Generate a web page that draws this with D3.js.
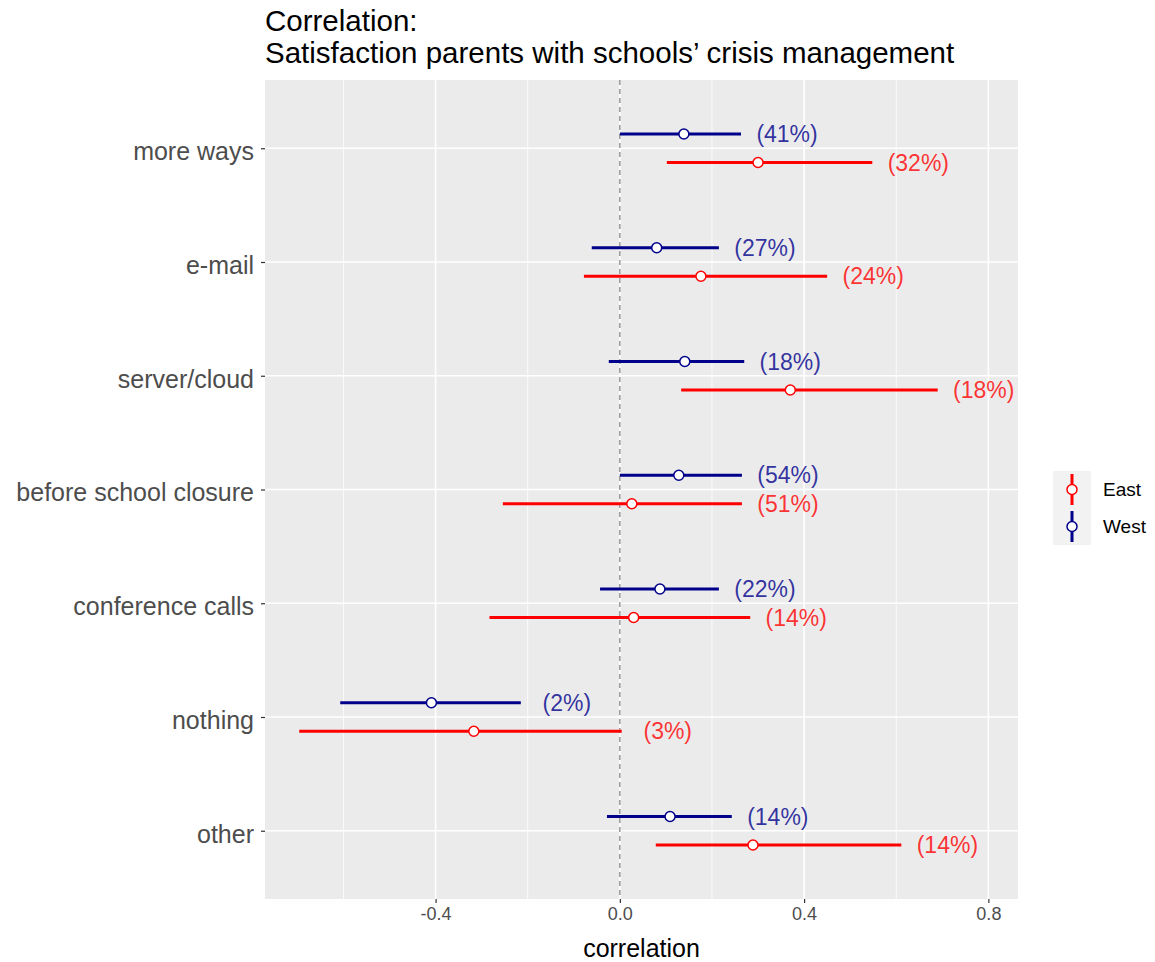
<!DOCTYPE html>
<html lang="en">
<head>
    <meta charset="UTF-8">
    <title>Correlation</title>
    <script src="https://cdn.jsdelivr.net/npm/d3@7"></script>
    <style>
        body { margin: 0; background: #fff; }
        text { font-family: "Liberation Sans", Arial, sans-serif; }
    </style>
</head>
<body>
    <svg width="1155" height="962" id="chart"></svg>
    <script>
        // categories, top to bottom
        const categories = ["more ways", "e-mail", "server/cloud", "before school closure",
                            "conference calls", "nothing", "other"];

        const westEst = [0.139, 0.080, 0.141, 0.128, 0.087, -0.409, 0.109];
        const westLo  = [0.000, -0.061, -0.024, 0.000, -0.043, -0.607, -0.028];
        const westHi  = [0.263, 0.215, 0.270, 0.265, 0.215, -0.215, 0.243];
        const westPct = ["(41%)", "(27%)", "(18%)", "(54%)", "(22%)", "(2%)", "(14%)"];

        const eastEst = [0.300, 0.176, 0.370, 0.026, 0.030, -0.317, 0.289];
        const eastLo  = [0.102, -0.078, 0.133, -0.254, -0.283, -0.696, 0.078];
        const eastHi  = [0.548, 0.450, 0.690, 0.265, 0.283, 0.004, 0.611];
        const eastPct = ["(32%)", "(24%)", "(18%)", "(51%)", "(14%)", "(3%)", "(14%)"];

        const xTicks = [-0.4, 0.0, 0.4, 0.8];
        const xTickLabels = ["-0.4", "0.0", "0.4", "0.8"];
        const xMinor = [-0.6, -0.2, 0.2, 0.6];
        const labelOffset = 0.1;

        const groups = [
            { name: "West", color: "#00008B", est: westEst, lo: westLo, hi: westHi, pct: westPct, dodge: -1 },
            { name: "East", color: "#FF0000", est: eastEst, lo: eastLo, hi: eastHi, pct: eastPct, dodge: 1 }
        ];

        const rows = [];
        groups.forEach(g => {
            categories.forEach((c, i) => {
                rows.push({ cat: c, group: g.name, color: g.color, dodge: g.dodge,
                            est: g.est[i], lo: g.lo[i], hi: g.hi[i], pct: g.pct[i] });
            });
        });

        const panel = { left: 265, right: 1018, top: 80, bottom: 899 };
        const svg = d3.select('#chart');

        // x domain like ggplot: data extent + 5%
        const xmin = d3.min(rows, d => d.lo);
        const xmax = d3.max(rows, d => d.hi + labelOffset);
        const pad = (xmax - xmin) * 0.05;
        const x = d3.scaleLinear().domain([xmin - pad, xmax + pad]).range([panel.left, panel.right]);

        const y = d3.scalePoint().domain(categories)
            .range([panel.top, panel.bottom]).padding(0.6);
        const dodgePx = y.step() * 0.125;

        // panel
        svg.append('rect')
            .attr('x', panel.left).attr('y', panel.top)
            .attr('width', panel.right - panel.left).attr('height', panel.bottom - panel.top)
            .attr('fill', '#EBEBEB');

        svg.selectAll('line.minor')
            .data(xMinor)
            .enter()
            .append('line')
            .attr('class', 'minor')
            .attr('x1', d => x(d)).attr('x2', d => x(d))
            .attr('y1', panel.top).attr('y2', panel.bottom)
            .attr('stroke', '#fff').attr('stroke-width', 0.8);

        svg.selectAll('line.major')
            .data(xTicks)
            .enter()
            .append('line')
            .attr('class', 'major')
            .attr('x1', d => x(d)).attr('x2', d => x(d))
            .attr('y1', panel.top).attr('y2', panel.bottom)
            .attr('stroke', '#fff').attr('stroke-width', 1.6);

        svg.selectAll('line.hgrid')
            .data(categories)
            .enter()
            .append('line')
            .attr('class', 'hgrid')
            .attr('x1', panel.left).attr('x2', panel.right)
            .attr('y1', d => y(d)).attr('y2', d => y(d))
            .attr('stroke', '#fff').attr('stroke-width', 1.6);

        // zero reference
        svg.append('line')
            .attr('x1', x(0)).attr('x2', x(0))
            .attr('y1', panel.top).attr('y2', panel.bottom)
            .attr('stroke', '#7f7f7f').attr('stroke-width', 1.2)
            .attr('stroke-dasharray', '5,4');

        // axes
        const xAxis = svg.append('g')
            .attr('transform', `translate(0,${panel.bottom})`)
            .call(d3.axisBottom(x).tickValues(xTicks)
                .tickFormat((d, i) => xTickLabels[i])
                .tickSizeOuter(0).tickSize(4).tickPadding(4));
        xAxis.select('.domain').remove();
        xAxis.selectAll('line').attr('stroke', '#333').attr('stroke-width', 1.2);
        xAxis.selectAll('text').attr('fill', '#4D4D4D').style('font-size', '18px');

        const yAxis = svg.append('g')
            .attr('transform', `translate(${panel.left},0)`)
            .call(d3.axisLeft(y).tickSizeOuter(0).tickSize(4).tickPadding(7));
        yAxis.select('.domain').remove();
        yAxis.selectAll('line').attr('stroke', '#333').attr('stroke-width', 1.2);
        yAxis.selectAll('text').attr('fill', '#4D4D4D').style('font-size', '25px')
            .attr('dy', '0.45em');

        // intervals
        svg.selectAll('line.ci')
            .data(rows)
            .enter()
            .append('line')
            .attr('class', 'ci')
            .attr('x1', d => x(d.lo)).attr('x2', d => x(d.hi))
            .attr('y1', d => y(d.cat) + d.dodge * dodgePx)
            .attr('y2', d => y(d.cat) + d.dodge * dodgePx)
            .attr('stroke', d => d.color).attr('stroke-width', 3);

        svg.selectAll('circle.est')
            .data(rows)
            .enter()
            .append('circle')
            .attr('class', 'est')
            .attr('cx', d => x(d.est))
            .attr('cy', d => y(d.cat) + d.dodge * dodgePx)
            .attr('r', 5)
            .attr('fill', '#fff')
            .attr('stroke', d => d.color).attr('stroke-width', 1.5);

        svg.selectAll('text.pct')
            .data(rows)
            .enter()
            .append('text')
            .attr('class', 'pct')
            .attr('x', d => x(d.hi + labelOffset))
            .attr('y', d => y(d.cat) + d.dodge * dodgePx)
            .attr('dy', '0.35em')
            .attr('text-anchor', 'middle')
            .attr('fill', d => d.color)
            .attr('fill-opacity', 0.8)
            .style('font-size', '23px')
            .text(d => d.pct);

        // titles
        svg.append('text').attr('x', panel.left).attr('y', 31)
            .style('font-size', '29.5px').attr('fill', '#000').text('Correlation:');
        svg.append('text').attr('x', panel.left).attr('y', 63)
            .style('font-size', '29.5px').attr('fill', '#000')
            .text('Satisfaction parents with schools\u2019 crisis management');
        svg.append('text')
            .attr('x', (panel.left + panel.right) / 2).attr('y', 957)
            .attr('text-anchor', 'middle')
            .style('font-size', '25px').attr('fill', '#000')
            .text('correlation');

        // legend
        const legendOrder = [groups[1], groups[0]];
        const legend = svg.append('g').attr('transform', 'translate(1053,471)');
        legend.selectAll('rect')
            .data(legendOrder)
            .enter()
            .append('rect')
            .attr('x', 0).attr('y', (d, i) => i * 37)
            .attr('width', 38).attr('height', 37)
            .attr('fill', '#F2F2F2');
        legend.selectAll('line')
            .data(legendOrder)
            .enter()
            .append('line')
            .attr('x1', 19).attr('x2', 19)
            .attr('y1', (d, i) => i * 37 + 3).attr('y2', (d, i) => i * 37 + 34)
            .attr('stroke', d => d.color).attr('stroke-width', 3);
        legend.selectAll('circle')
            .data(legendOrder)
            .enter()
            .append('circle')
            .attr('cx', 19).attr('cy', (d, i) => i * 37 + 18.5)
            .attr('r', 5).attr('fill', '#fff')
            .attr('stroke', d => d.color).attr('stroke-width', 1.5);
        legend.selectAll('text')
            .data(legendOrder)
            .enter()
            .append('text')
            .attr('x', 50).attr('y', (d, i) => i * 37 + 18.5)
            .attr('dy', '0.35em')
            .style('font-size', '19px').attr('fill', '#000')
            .text(d => d.name);
    </script>
</body>
</html>
